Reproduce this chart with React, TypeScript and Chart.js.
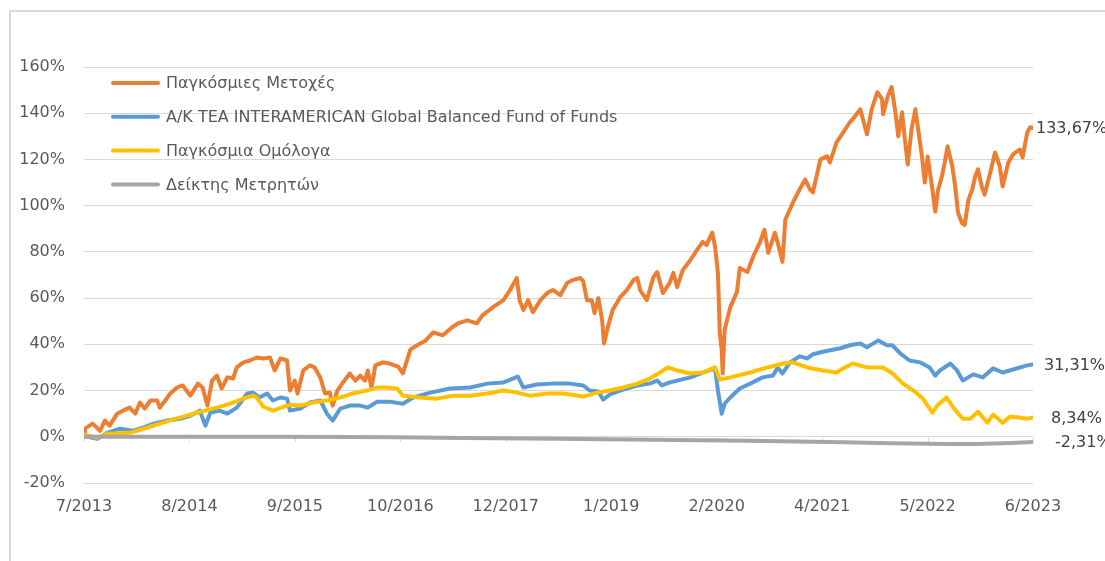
import React, { useEffect, useRef } from "react";
import { Chart, registerables } from "chart.js";

Chart.register(...registerables);

// x = decimal year, y = cumulative return in %
const seriesNames = [
  "Παγκόσμιες Μετοχές",
  "A/K TEA INTERAMERICAN Global Balanced Fund of Funds",
  "Παγκόσμια Ομόλογα",
  "Δείκτης Μετρητών",
];
const seriesColors = ["#ED7D31", "#5B9BD5", "#FFC000", "#A5A5A5"];
const endLabels = ["133,67%", "31,31%", "8,34%", "-2,31%"];
const xTickLabels = ["7/2013", "8/2014", "9/2015", "10/2016", "12/2017", "1/2019", "2/2020", "4/2021", "5/2022", "6/2023"];
const yTickValues = [-20, 0, 20, 40, 60, 80, 100, 120, 140, 160];

const equities: [number, number][] = [
  [2013.5, 1.5], [2013.51, 3.5], [2013.59, 5.7], [2013.67, 2.6], [2013.72, 7.0], [2013.77, 4.8],
  [2013.85, 10.0], [2013.91, 11.3], [2013.98, 12.6], [2014.04, 10.0], [2014.09, 14.8], [2014.14, 12.2],
  [2014.2, 15.7], [2014.27, 15.7], [2014.3, 12.6], [2014.41, 18.7], [2014.48, 21.3], [2014.54, 22.2],
  [2014.62, 17.8], [2014.7, 23.0], [2014.75, 21.3], [2014.8, 13.5], [2014.85, 24.3], [2014.9, 26.5],
  [2014.95, 20.9], [2015.01, 25.7], [2015.07, 25.2], [2015.11, 30.0], [2015.18, 32.2], [2015.25, 33.0],
  [2015.32, 34.3], [2015.39, 33.9], [2015.46, 34.3], [2015.51, 28.7], [2015.57, 33.9], [2015.64, 33.0],
  [2015.67, 20.0], [2015.72, 24.3], [2015.75, 18.7], [2015.81, 28.7], [2015.88, 30.9], [2015.93, 30.0],
  [2015.99, 25.7], [2016.04, 18.7], [2016.09, 19.1], [2016.12, 13.5], [2016.17, 20.0], [2016.23, 23.5],
  [2016.3, 27.4], [2016.36, 24.3], [2016.41, 26.5], [2016.46, 24.3], [2016.49, 28.7], [2016.53, 21.3],
  [2016.57, 30.9], [2016.65, 32.2], [2016.72, 31.7], [2016.81, 30.4], [2016.86, 27.4], [2016.94, 37.8],
  [2017.01, 39.6], [2017.09, 41.3], [2017.18, 45.2], [2017.28, 43.9], [2017.38, 47.4], [2017.44, 49.1],
  [2017.54, 50.4], [2017.64, 49.1], [2017.7, 52.6], [2017.81, 56.1], [2017.92, 59.1], [2017.99, 63.5],
  [2018.06, 68.7], [2018.09, 59.1], [2018.13, 54.8], [2018.18, 59.1], [2018.23, 53.9], [2018.31, 59.1],
  [2018.38, 62.2], [2018.44, 63.5], [2018.52, 61.3], [2018.59, 66.5], [2018.65, 67.8], [2018.73, 68.7],
  [2018.76, 67.4], [2018.8, 59.1], [2018.85, 59.1], [2018.88, 53.5], [2018.92, 60.0], [2018.96, 50.4],
  [2018.98, 40.4], [2019.02, 47.4], [2019.07, 54.8], [2019.15, 60.4], [2019.22, 63.5], [2019.29, 67.8],
  [2019.33, 68.7], [2019.36, 63.5], [2019.43, 59.1], [2019.5, 69.1], [2019.54, 71.3], [2019.6, 62.2],
  [2019.67, 66.5], [2019.71, 70.9], [2019.75, 64.8], [2019.81, 72.2], [2019.89, 76.5], [2019.96, 80.9],
  [2020.02, 84.3], [2020.06, 83.0], [2020.12, 88.3], [2020.15, 82.2], [2020.18, 70.9], [2020.2, 44.8],
  [2020.22, 37.4], [2020.23, 27.4], [2020.25, 46.1], [2020.31, 56.1], [2020.38, 62.6], [2020.41, 73.0],
  [2020.49, 71.3], [2020.55, 77.8], [2020.62, 83.9], [2020.67, 89.6], [2020.71, 79.6], [2020.78, 88.3],
  [2020.81, 83.9], [2020.86, 75.7], [2020.89, 93.9], [2020.97, 101.3], [2021.04, 107.0], [2021.1, 111.3],
  [2021.15, 107.0], [2021.18, 105.7], [2021.26, 120.0], [2021.33, 121.3], [2021.36, 118.7], [2021.43, 127.4],
  [2021.5, 131.7], [2021.57, 136.1], [2021.6, 137.4], [2021.68, 141.7], [2021.75, 130.9], [2021.8, 141.7],
  [2021.86, 149.1], [2021.91, 146.1], [2021.92, 139.6], [2021.97, 147.4], [2022.01, 151.3], [2022.05, 140.4],
  [2022.08, 130.0], [2022.12, 140.4], [2022.15, 128.7], [2022.18, 117.8], [2022.22, 133.0], [2022.26, 141.7],
  [2022.29, 133.0], [2022.33, 121.3], [2022.36, 110.0], [2022.39, 121.3], [2022.44, 107.0], [2022.47, 97.4],
  [2022.5, 107.0], [2022.54, 112.6], [2022.57, 118.7], [2022.6, 125.7], [2022.65, 117.0], [2022.68, 108.3],
  [2022.71, 97.0], [2022.75, 92.6], [2022.78, 91.7], [2022.82, 102.6], [2022.86, 107.0], [2022.89, 112.6],
  [2022.92, 115.7], [2022.96, 108.3], [2022.99, 104.8], [2023.05, 114.3], [2023.1, 123.0], [2023.15, 117.0],
  [2023.18, 108.3], [2023.24, 118.7], [2023.29, 122.2], [2023.36, 124.3], [2023.39, 120.9], [2023.44, 131.7],
  [2023.47, 133.9], [2023.5, 133.67],
];

const fund: [number, number][] = [
  [2013.5, 0.4], [2013.64, -0.9], [2013.74, 1.7], [2013.88, 3.5], [2014.02, 2.6], [2014.12, 3.9],
  [2014.23, 5.7], [2014.37, 7.0], [2014.51, 7.8], [2014.62, 9.1], [2014.72, 11.3], [2014.78, 4.8],
  [2014.83, 10.4], [2014.93, 11.3], [2015.01, 10.0], [2015.11, 12.6], [2015.22, 18.7], [2015.28, 19.1],
  [2015.35, 17.0], [2015.43, 18.7], [2015.49, 15.7], [2015.57, 17.0], [2015.64, 16.5], [2015.67, 11.3],
  [2015.78, 12.2], [2015.88, 14.8], [2015.99, 15.7], [2016.06, 10.0], [2016.12, 7.0], [2016.2, 12.2],
  [2016.3, 13.5], [2016.41, 13.5], [2016.49, 12.6], [2016.59, 15.2], [2016.72, 15.2], [2016.86, 14.3],
  [2016.97, 17.0], [2017.15, 19.1], [2017.36, 20.9], [2017.57, 21.3], [2017.75, 23.0], [2017.92, 23.5],
  [2018.02, 25.2], [2018.07, 26.1], [2018.13, 21.3], [2018.27, 22.6], [2018.44, 23.0], [2018.62, 23.0],
  [2018.76, 22.2], [2018.83, 20.0], [2018.92, 19.6], [2018.97, 16.1], [2019.04, 18.3], [2019.18, 20.4],
  [2019.33, 22.2], [2019.46, 23.0], [2019.54, 24.3], [2019.59, 22.2], [2019.67, 23.5], [2019.75, 24.3],
  [2019.89, 25.7], [2020.02, 27.8], [2020.15, 29.6], [2020.18, 20.0], [2020.22, 10.0], [2020.25, 14.3],
  [2020.31, 17.0], [2020.41, 20.9], [2020.52, 23.0], [2020.65, 25.7], [2020.76, 26.5], [2020.81, 30.0],
  [2020.86, 27.4], [2020.94, 32.2], [2021.04, 34.8], [2021.12, 33.9], [2021.18, 35.7], [2021.31, 37.0],
  [2021.47, 38.3], [2021.57, 39.6], [2021.68, 40.4], [2021.75, 38.7], [2021.87, 41.7], [2021.96, 39.6],
  [2022.02, 39.6], [2022.1, 36.1], [2022.2, 33.0], [2022.31, 32.2], [2022.41, 30.0], [2022.47, 26.5],
  [2022.52, 28.7], [2022.63, 31.7], [2022.7, 28.7], [2022.76, 24.3], [2022.87, 27.0], [2022.97, 25.7],
  [2023.08, 29.6], [2023.18, 27.8], [2023.29, 29.1], [2023.44, 30.9], [2023.5, 31.31],
];

const bonds: [number, number][] = [
  [2013.5, 0.9], [2013.64, -0.4], [2013.74, 1.3], [2013.98, 1.7], [2014.16, 3.9], [2014.33, 6.1],
  [2014.51, 8.3], [2014.69, 10.4], [2014.86, 12.2], [2015.04, 14.3], [2015.18, 16.5], [2015.28, 17.8],
  [2015.32, 17.0], [2015.39, 13.0], [2015.49, 11.3], [2015.67, 13.9], [2015.78, 13.5], [2015.91, 14.8],
  [2016.06, 15.7], [2016.2, 17.0], [2016.33, 18.7], [2016.48, 20.0], [2016.59, 21.3], [2016.69, 21.3],
  [2016.8, 20.9], [2016.86, 17.8], [2017.04, 17.0], [2017.22, 16.5], [2017.39, 17.8], [2017.57, 17.8],
  [2017.75, 18.7], [2017.92, 20.0], [2018.06, 19.1], [2018.2, 17.8], [2018.38, 18.7], [2018.55, 18.7],
  [2018.76, 17.4], [2018.91, 19.1], [2019.04, 20.0], [2019.18, 21.3], [2019.33, 23.0], [2019.46, 25.2],
  [2019.57, 27.8], [2019.65, 30.0], [2019.75, 28.7], [2019.89, 27.4], [2020.02, 27.8], [2020.15, 30.0],
  [2020.2, 24.8], [2020.31, 25.7], [2020.52, 27.8], [2020.7, 30.0], [2020.87, 31.7], [2020.97, 32.2],
  [2021.12, 30.0], [2021.29, 28.7], [2021.43, 27.8], [2021.5, 29.6], [2021.6, 31.7], [2021.75, 30.0],
  [2021.92, 30.0], [2022.02, 27.4], [2022.13, 23.0], [2022.24, 20.0], [2022.34, 16.5], [2022.44, 10.4],
  [2022.49, 13.5], [2022.59, 17.0], [2022.66, 12.6], [2022.76, 7.8], [2022.84, 7.8], [2022.92, 10.9],
  [2023.02, 6.1], [2023.08, 9.6], [2023.18, 6.1], [2023.26, 8.7], [2023.36, 8.3], [2023.43, 7.8],
  [2023.5, 8.34],
];

const cash: [number, number][] = [
  [2013.5, 0.0], [2014.5, 0.0], [2015.5, 0.0], [2016.3, -0.1], [2016.8, -0.2], [2017.5, -0.5],
  [2018.5, -0.9], [2019.5, -1.3], [2020.5, -1.7], [2021.0, -2.0], [2021.5, -2.4], [2022.0, -2.8],
  [2022.6, -3.1], [2022.9, -3.1], [2023.2, -2.8], [2023.5, -2.31],
];

const allSeries = [equities, fund, bonds, cash];

const FONT = "'DejaVu Sans', sans-serif";
const TEXT = "#595959";

const overlayPlugin = {
  id: "overlay",
  beforeDatasetsDraw(chart: any) {
    const { ctx } = chart;
    const xs = chart.scales.x;
    const ys = chart.scales.y;
    const y0 = ys.getPixelForValue(0);
    ctx.save();
    ctx.strokeStyle = "#d9d9d9";
    ctx.lineWidth = 1;
    xs.ticks.forEach((t: any) => {
      const px = Math.round(xs.getPixelForValue(t.value)) + 0.5;
      ctx.beginPath();
      ctx.moveTo(px, y0);
      ctx.lineTo(px, y0 + 5);
      ctx.stroke();
    });
    ctx.restore();
  },
  afterDatasetsDraw(chart: any) {
    const { ctx, chartArea } = chart;
    const xs = chart.scales.x;
    const ys = chart.scales.y;
    ctx.save();
    // end value labels
    const offsets = [3, 11, 18, 22];
    ctx.font = `16px ${FONT}`;
    ctx.fillStyle = "#404040";
    ctx.textAlign = "left";
    ctx.textBaseline = "middle";
    chart.data.datasets.forEach((ds: any, i: number) => {
      const last = ds.data[ds.data.length - 1];
      const px = xs.getPixelForValue(last.x);
      const py = ys.getPixelForValue(last.y);
      ctx.fillText(endLabels[i], px + offsets[i], py + 1);
    });
    // legend
    const lx = chartArea.left + 29;
    const ly = chartArea.top + 16;
    ctx.fillStyle = TEXT;
    chart.data.datasets.forEach((ds: any, i: number) => {
      const y = ly + i * 33.8;
      ctx.strokeStyle = ds.borderColor;
      ctx.lineWidth = 4;
      ctx.lineCap = "round";
      ctx.beginPath();
      ctx.moveTo(lx, y);
      ctx.lineTo(lx + 45, y);
      ctx.stroke();
      ctx.fillText(ds.label, lx + 53, y + 1);
    });
    ctx.restore();
  },
};

export default function App() {
  const canvasRef = useRef<HTMLCanvasElement | null>(null);

  useEffect(() => {
    if (!canvasRef.current) return;
    const xMin = allSeries[0][0][0];
    const xMax = allSeries[0][allSeries[0].length - 1][0];
    const chart = new Chart(canvasRef.current, {
      type: "line",
      data: {
        datasets: allSeries.map((s, i) => ({
          label: seriesNames[i],
          data: s.map(([x, y]) => ({ x, y })),
          borderColor: seriesColors[i],
          backgroundColor: seriesColors[i],
          borderWidth: 4,
          pointRadius: 0,
          tension: 0,
          borderJoinStyle: "round" as const,
          borderCapStyle: "round" as const,
          order: allSeries.length - i,
        })),
      },
      options: {
        animation: false,
        responsive: false,
        events: [],
        layout: { padding: { left: 0, top: 67, right: 72, bottom: 0 } },
        plugins: { legend: { display: false }, tooltip: { enabled: false } },
        scales: {
          x: {
            type: "linear",
            min: xMin,
            max: xMax,
            grid: { display: false, drawTicks: false },
            border: { display: false },
            afterBuildTicks: (scale: any) => {
              const n = xTickLabels.length;
              scale.ticks = xTickLabels.map((_, i) => ({ value: xMin + (i * (xMax - xMin)) / (n - 1) }));
            },
            afterFit: (scale: any) => {
              scale.height = 78;
            },
            ticks: {
              autoSkip: false,
              maxRotation: 0,
              minRotation: 0,
              padding: 14,
              color: TEXT,
              font: { family: FONT, size: 16 },
              callback: (_v: any, i: number) => xTickLabels[i],
            },
          },
          y: {
            min: yTickValues[0],
            max: yTickValues[yTickValues.length - 1],
            grid: { color: "#d9d9d9", lineWidth: 1, drawTicks: false },
            border: { display: false },
            afterBuildTicks: (scale: any) => {
              scale.ticks = yTickValues.map((v) => ({ value: v }));
            },
            afterFit: (scale: any) => {
              scale.width = 84;
            },
            ticks: {
              padding: 19,
              color: TEXT,
              font: { family: FONT, size: 16 },
              callback: (v: any) => `${v}%`,
            },
          },
        },
      },
      plugins: [overlayPlugin],
    });
    return () => chart.destroy();
  }, []);

  return (
    <div style={{ position: "fixed", left: 0, top: 0, width: 1105, height: 561, overflow: "hidden", background: "#fff" }}>
      <div
        style={{
          position: "absolute",
          left: 9,
          top: 10,
          width: 1200,
          height: 700,
          border: "2px solid #d9d9d9",
          boxSizing: "border-box",
        }}
      />
      <canvas
        ref={canvasRef}
        width={1105}
        height={561}
        style={{ position: "absolute", left: 0, top: 0, width: 1105, height: 561, display: "block" }}
      />
    </div>
  );
}
